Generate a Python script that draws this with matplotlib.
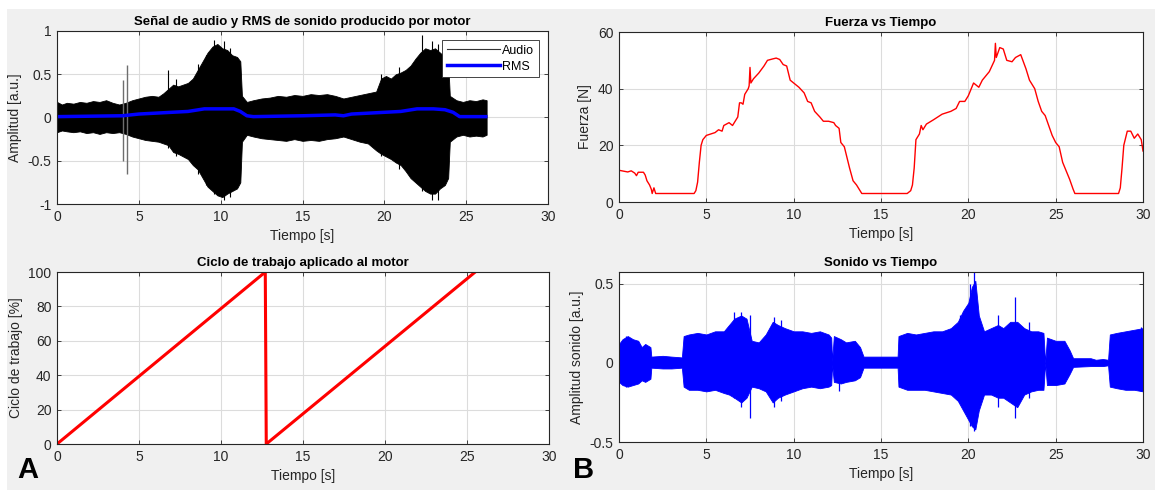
import matplotlib
matplotlib.use("Agg")
import matplotlib.pyplot as plt
from matplotlib.patches import Rectangle

plt.rcParams["font.family"] = ["Liberation Sans", "DejaVu Sans"]
plt.rcParams["font.size"] = 9.5

# --- Panel A: senal de audio (envolvente) ---
audio_t = [0.0, 0.3, 0.6, 1.0, 1.4, 1.8, 2.2, 2.6, 3.0, 3.4, 3.8, 4.2, 4.6, 5.0, 5.4,
           5.8, 6.2, 6.5, 6.8, 7.1, 7.4, 7.7, 8.0, 8.3, 8.6, 8.9, 9.2, 9.5, 9.8, 10.1,
           10.4, 10.7, 11.0, 11.2, 11.3, 11.6, 12.0, 12.5, 13.0, 13.5, 14.0, 14.5, 15.0,
           15.5, 16.0, 16.5, 17.0, 17.5, 18.0, 18.5, 19.0, 19.5, 19.8, 20.1, 20.4, 20.7,
           21.0, 21.3, 21.6, 21.9, 22.2, 22.5, 22.8, 23.1, 23.4, 23.7, 23.9, 24.0, 24.4,
           24.8, 25.2, 25.6, 26.0, 26.25]
audio_hi = [0.18, 0.15, 0.17, 0.16, 0.18, 0.17, 0.19, 0.18, 0.20, 0.17, 0.15, 0.17, 0.20,
            0.22, 0.24, 0.25, 0.24, 0.28, 0.33, 0.38, 0.36, 0.38, 0.40, 0.45, 0.55, 0.65,
            0.75, 0.82, 0.85, 0.80, 0.78, 0.72, 0.70, 0.65, 0.25, 0.18, 0.20, 0.22, 0.23,
            0.25, 0.24, 0.26, 0.25, 0.27, 0.26, 0.27, 0.25, 0.22, 0.24, 0.26, 0.28, 0.30,
            0.45, 0.48, 0.45, 0.50, 0.52, 0.55, 0.60, 0.68, 0.75, 0.80, 0.78, 0.80, 0.75,
            0.70, 0.65, 0.25, 0.20, 0.18, 0.20, 0.19, 0.21, 0.20]
audio_lo = [-0.17, -0.15, -0.16, -0.17, -0.16, -0.18, -0.17, -0.19, -0.17, -0.18, -0.17,
            -0.19, -0.22, -0.24, -0.26, -0.27, -0.28, -0.30, -0.32, -0.40, -0.42, -0.45,
            -0.48, -0.55, -0.60, -0.70, -0.80, -0.85, -0.90, -0.92, -0.88, -0.85, -0.82,
            -0.75, -0.28, -0.20, -0.22, -0.24, -0.25, -0.26, -0.27, -0.25, -0.27, -0.26,
            -0.27, -0.25, -0.24, -0.22, -0.25, -0.28, -0.30, -0.38, -0.42, -0.45, -0.48,
            -0.52, -0.55, -0.62, -0.70, -0.75, -0.80, -0.85, -0.88, -0.88, -0.82, -0.78,
            -0.70, -0.28, -0.22, -0.20, -0.22, -0.21, -0.22, -0.20]
# picos sueltos del audio
audio_pico_t = [6.8, 7.3, 8.6, 9.1, 9.6, 10.2, 10.6, 19.8, 20.9, 22.3, 22.9, 23.3]
audio_pico_hi = [0.55, 0.45, 0.62, 0.72, 0.90, 0.88, 0.80, 0.50, 0.58, 0.95, 0.88, 0.85]
audio_pico_lo = [-0.35, -0.45, -0.65, -0.78, -0.88, -0.95, -0.92, -0.45, -0.60, -0.85,
                 -0.95, -0.95]
# los dos transitorios grises cerca de t = 4 s
gris_t = [4.02, 4.25]
gris_hi = [0.43, 0.61]
gris_lo = [-0.50, -0.65]

rms_t = [0.0, 4.0, 5.0, 6.0, 7.0, 8.0, 9.0, 10.0, 10.8, 11.2, 11.6, 12.0, 15.0, 16.0,
         17.0, 17.5, 18.0, 20.0, 21.0, 22.0, 23.0, 23.7, 24.2, 24.6, 26.2]
rms_v = [0.01, 0.02, 0.04, 0.05, 0.06, 0.07, 0.10, 0.10, 0.10, 0.07, 0.02, 0.01, 0.02,
         0.025, 0.03, 0.02, 0.04, 0.06, 0.07, 0.10, 0.10, 0.09, 0.06, 0.01, 0.01]

# --- Ciclo de trabajo ---
ciclo_t = [0.0, 12.7, 12.76, 25.5]
ciclo_v = [0, 100, 0, 100]

# --- Panel B: fuerza ---
fuerza_t = [0.0, 0.5, 0.7, 0.9, 1.0, 1.1, 1.4, 1.5, 1.6, 1.75, 1.85, 1.9, 2.0, 2.1, 2.2,
            4.3, 4.4, 4.5, 4.6, 4.7, 4.8, 5.0, 5.5, 5.7, 5.9, 6.0, 6.3, 6.5, 6.7, 6.8,
            6.9, 7.0, 7.1, 7.2, 7.4, 7.45, 7.5, 7.55, 7.7, 8.0, 8.3, 8.5, 8.8, 9.0, 9.2,
            9.4, 9.6, 9.8, 10.0, 10.3, 10.6, 10.8, 11.0, 11.2, 11.5, 11.7, 12.0, 12.3,
            12.4, 12.6, 12.7, 12.9, 13.0, 13.2, 13.4, 13.6, 13.8, 13.9, 16.5, 16.7, 16.8,
            16.9, 17.0, 17.2, 17.3, 17.4, 17.6, 18.0, 18.5, 19.0, 19.3, 19.5, 19.8, 20.0,
            20.2, 20.3, 20.6, 20.8, 21.2, 21.5, 21.55, 21.6, 21.8, 22.0, 22.2, 22.5, 22.7,
            23.0, 23.3, 23.5, 23.8, 24.0, 24.2, 24.4, 24.6, 24.8, 25.0, 25.2, 25.4, 25.6,
            25.8, 26.0, 26.1, 28.6, 28.7, 28.8, 28.9, 29.1, 29.3, 29.5, 29.7, 29.9, 30.0]
fuerza_v = [11.2, 10.6, 11.0, 10.2, 9.3, 10.5, 10.5, 9.5, 7.5, 6.0, 4.5, 3.0, 5.0, 3.0,
            3.0, 3.0, 4.0, 7.0, 14.0, 20.0, 22.0, 23.5, 24.5, 25.5, 25.0, 27.0, 28.0,
            27.0, 29.0, 30.0, 35.0, 35.0, 34.5, 38.0, 40.0, 41.0, 47.5, 42.0, 43.5, 45.5,
            48.0, 50.0, 50.5, 50.8, 50.3, 48.5, 48.0, 43.0, 42.0, 40.5, 38.5, 35.5, 35.0,
            32.0, 30.0, 28.5, 28.5, 28.0, 27.0, 26.0, 21.0, 19.5, 17.0, 12.0, 7.5, 6.0,
            4.0, 3.0, 3.0, 4.0, 6.0, 12.0, 22.0, 24.0, 27.0, 25.5, 27.5, 29.0, 31.0, 32.0,
            33.0, 35.5, 35.5, 37.5, 40.5, 42.0, 40.5, 43.0, 46.0, 50.0, 56.0, 51.0, 54.5,
            54.0, 50.0, 49.5, 51.0, 52.0, 47.0, 43.0, 40.0, 35.5, 32.0, 30.5, 27.0, 23.5,
            21.0, 19.5, 14.0, 11.0, 8.0, 4.5, 3.0, 3.0, 5.0, 12.0, 20.0, 25.0, 25.0, 22.5,
            24.0, 22.0, 18.0]

# --- Sonido vs tiempo (envolvente) ---
sonido_t = [0.0, 0.2, 0.5, 0.8, 1.1, 1.3, 1.5, 1.8, 1.85, 2.5, 3.0, 3.6, 3.7, 4.0, 4.5,
            5.0, 5.5, 6.0, 6.3, 6.6, 7.0, 7.3, 7.6, 8.0, 8.4, 8.8, 9.1, 9.5, 10.0, 10.5,
            11.0, 11.5, 12.0, 12.15, 12.2, 12.3, 12.7, 13.0, 13.5, 13.8, 14.0, 15.0,
            15.95, 16.0, 16.5, 17.0, 17.5, 18.0, 18.5, 19.0, 19.4, 19.7, 20.0, 20.2,
            20.4, 20.6, 20.9, 21.3, 21.7, 22.0, 22.4, 22.8, 23.2, 23.6, 24.0, 24.3, 24.4,
            24.5, 25.0, 25.5, 25.8, 26.0, 27.0, 27.3, 27.7, 28.0, 28.1, 28.5, 29.0, 29.5,
            30.0]
sonido_hi = [0.12, 0.15, 0.17, 0.15, 0.14, 0.10, 0.12, 0.10, 0.04, 0.045, 0.04, 0.035,
             0.17, 0.18, 0.19, 0.18, 0.20, 0.20, 0.24, 0.28, 0.30, 0.28, 0.14, 0.13, 0.18,
             0.26, 0.24, 0.22, 0.20, 0.20, 0.19, 0.20, 0.18, 0.16, 0.01, 0.17, 0.15, 0.13,
             0.14, 0.10, 0.04, 0.04, 0.04, 0.17, 0.19, 0.18, 0.19, 0.20, 0.20, 0.22, 0.26,
             0.33, 0.38, 0.48, 0.52, 0.30, 0.20, 0.22, 0.24, 0.22, 0.26, 0.26, 0.22, 0.20,
             0.20, 0.19, 0.00, 0.16, 0.14, 0.14, 0.08, 0.03, 0.03, 0.02, 0.025, 0.02,
             0.18, 0.19, 0.20, 0.21, 0.22]
sonido_lo = [-0.12, -0.14, -0.15, -0.14, -0.13, -0.11, -0.12, -0.10, -0.03, -0.035,
             -0.035, -0.03, -0.15, -0.17, -0.17, -0.18, -0.17, -0.19, -0.20, -0.22,
             -0.25, -0.22, -0.15, -0.16, -0.18, -0.25, -0.22, -0.20, -0.18, -0.16, -0.15,
             -0.16, -0.15, -0.14, -0.01, -0.12, -0.13, -0.12, -0.11, -0.09, -0.03, -0.03,
             -0.03, -0.15, -0.17, -0.17, -0.17, -0.18, -0.19, -0.20, -0.24, -0.30, -0.36,
             -0.40, -0.42, -0.30, -0.20, -0.20, -0.22, -0.22, -0.25, -0.28, -0.20, -0.18,
             -0.17, -0.17, 0.00, -0.14, -0.14, -0.13, -0.07, -0.025, -0.02, -0.02, -0.02,
             -0.015, -0.15, -0.16, -0.17, -0.17, -0.18]
sonido_pico_t = [0.4, 6.6, 7.0, 7.5, 8.9, 9.3, 19.5, 20.1, 20.35, 21.7, 22.7, 23.5, 12.6,
                 29.9]
sonido_pico_hi = [0.17, 0.32, 0.32, 0.30, 0.29, 0.27, 0.30, 0.50, 0.58, 0.30, 0.42, 0.26,
                  0.15, 0.23]
sonido_pico_lo = [-0.15, -0.22, -0.28, -0.35, -0.28, -0.24, -0.25, -0.40, -0.43, -0.28,
                  -0.35, -0.22, -0.18, -0.18]

W, H = 1155, 490
fig = plt.figure(figsize=(W / 100, H / 100), dpi=100, facecolor="white")
fig.patches.append(Rectangle((7 / W, 0), 1 - 7 / W, 1 - 9 / H, transform=fig.transFigure,
                             facecolor="#f0f0f0", edgecolor="none", zorder=-10))


def make_axes(px_left, px_top, px_right, px_bottom):
    ax = fig.add_axes([px_left / W, 1 - px_bottom / H, (px_right - px_left) / W,
                       (px_bottom - px_top) / H])
    ax.set_facecolor("white")
    for s in ax.spines.values():
        s.set_color("#262626")
        s.set_linewidth(0.8)
    ax.tick_params(direction="in", top=True, right=True, length=3, width=0.6,
                   colors="#262626", labelsize=10, pad=4)
    ax.grid(True, color="#dcdcdc", linewidth=0.8)
    ax.set_axisbelow(True)
    ax.set_xlim(0, 30)
    ax.set_xticks([0, 5, 10, 15, 20, 25, 30])
    return ax


def titulos(ax, title, ylabel):
    ax.set_title(title, fontsize=9.5, fontweight="bold", pad=4)
    ax.set_xlabel("Tiempo [s]", fontsize=10, color="#262626", labelpad=4)
    ax.set_ylabel(ylabel, fontsize=10, color="#262626", labelpad=4)


# Señal de audio y RMS
ax1 = make_axes(57, 31, 548, 204)
ax1.fill_between(audio_t, audio_lo, audio_hi, color="black", linewidth=0.6, edgecolor="black")
ax1.vlines(audio_pico_t, audio_pico_lo, audio_pico_hi, color="black", linewidth=0.8)
ax1.vlines(gris_t, gris_lo, gris_hi, color="#6e6e6e", linewidth=1.0)
ax1.plot([], [], color="#333333", linewidth=0.8, label="Audio")
ax1.plot(rms_t, rms_v, color="#0000ff", linewidth=2.5, label="RMS")
ax1.set_ylim(-1, 1)
ax1.set_yticks([-1, -0.5, 0, 0.5, 1])
ax1.set_yticklabels(["-1", "-0.5", "0", "0.5", "1"])
titulos(ax1, "Señal de audio y RMS de sonido producido por motor", "Amplitud [a.u.]")
leg = ax1.legend(loc="upper right", fontsize=9, fancybox=False, framealpha=1,
                 edgecolor="#262626", handlelength=4.2, borderpad=0.4, labelspacing=0.3,
                 handletextpad=0.2, borderaxespad=0.7)
leg.get_frame().set_linewidth(0.6)

# Fuerza vs Tiempo
ax2 = make_axes(619, 32, 1143, 202)
ax2.plot(fuerza_t, fuerza_v, color="#ff0000", linewidth=1.0)
ax2.set_ylim(0, 60)
ax2.set_yticks([0, 20, 40, 60])
titulos(ax2, "Fuerza vs Tiempo", "Fuerza [N]")

# Ciclo de trabajo
ax3 = make_axes(57, 272, 549, 444)
ax3.plot(ciclo_t, ciclo_v, color="#ff0000", linewidth=2.2)
ax3.set_ylim(0, 100)
ax3.set_yticks([0, 20, 40, 60, 80, 100])
titulos(ax3, "Ciclo de trabajo aplicado al motor", "Ciclo de trabajo [%]")

# Sonido vs Tiempo
ax4 = make_axes(619, 272, 1143, 442)
ax4.fill_between(sonido_t, sonido_lo, sonido_hi, color="#0000ff", linewidth=0.6,
                 edgecolor="#0000ff")
ax4.vlines(sonido_pico_t, sonido_pico_lo, sonido_pico_hi, color="#0000ff", linewidth=0.9)
ax4.set_ylim(-0.5, 0.575)
ax4.set_yticks([-0.5, 0, 0.5])
ax4.set_yticklabels(["-0.5", "0", "0.5"])
titulos(ax4, "Sonido vs Tiempo", "Amplitud sonido [a.u.]")

fig.text(17 / W, 1 - 478 / H, "A", fontsize=21, fontweight="bold", ha="left", va="baseline")
fig.text(573 / W, 1 - 478 / H, "B", fontsize=21, fontweight="bold", ha="left", va="baseline")

fig.savefig("out.png", dpi=100, facecolor=fig.get_facecolor())
